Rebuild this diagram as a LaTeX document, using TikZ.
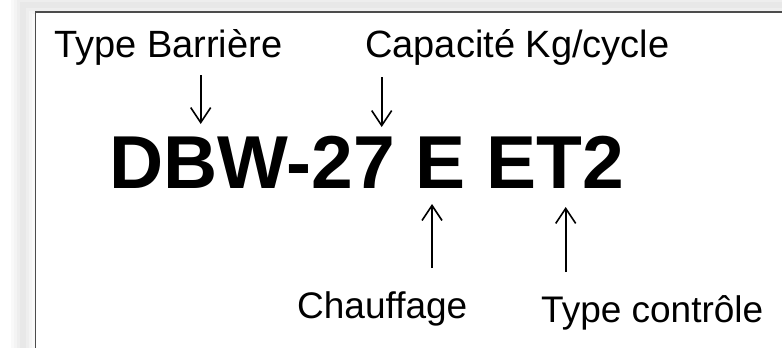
\documentclass[tikz,border=0pt]{standalone}
\usepackage{fontspec}
\setmainfont{Liberation Sans}
\usetikzlibrary{arrows.meta}
\begin{document}
\begin{tikzpicture}[x=1pt,y=-1pt,
  lbl/.style={inner sep=0pt, anchor=base west, font=\fontsize{38}{42}\selectfont},
  lblb/.style={inner sep=0pt, anchor=base west, font=\fontsize{37}{41}\selectfont},
  code/.style={inner sep=0pt, anchor=base west, font=\fontsize{75}{80}\selectfont\bfseries},
  arr/.style={line width=1.6pt, -{Straight Barb[length=15pt,width=20pt,line width=1.6pt]}}]
\useasboundingbox (0,0) rectangle (782,348);
\fill[white] (0,0) rectangle (782,348);
% soft shadow
\foreach \w/\o in {24/0.06,18/0.06,12/0.07,6/0.07}{
  \draw[gray!70, line width=\w pt, opacity=\o] (23,5) rectangle (820,400);
}
\draw[fill=white, draw=black!70, line width=1.5pt] (35.5,12) rectangle (830,400);
% texts
\node[lbl] (tb) at (54,57) {Type Barrière};
\node[lbl] (cap) at (365,57) {Capacité Kg/cycle};
\node[code] (code) at (109,188) {DBW-27 E ET2};
\node[lblb] (ch) at (297,318) {Chauffage};
\node[lblb] (tc) at (541,322) {Type contrôle};
% arrow end points
\coordinate (a1s) at (200.7,75);  \coordinate (a1e) at (200.7,124);
\coordinate (a2s) at (381.7,77);  \coordinate (a2e) at (381.7,127);
\coordinate (a3s) at (432,268);   \coordinate (a3e) at (432,204);
\coordinate (a4s) at (565.7,272); \coordinate (a4e) at (565.7,207);
\draw[arr] (a1s) -- (a1e);
\draw[arr] (a2s) -- (a2e);
\draw[arr] (a3s) -- (a3e);
\draw[arr] (a4s) -- (a4e);
\end{tikzpicture}
\end{document}
